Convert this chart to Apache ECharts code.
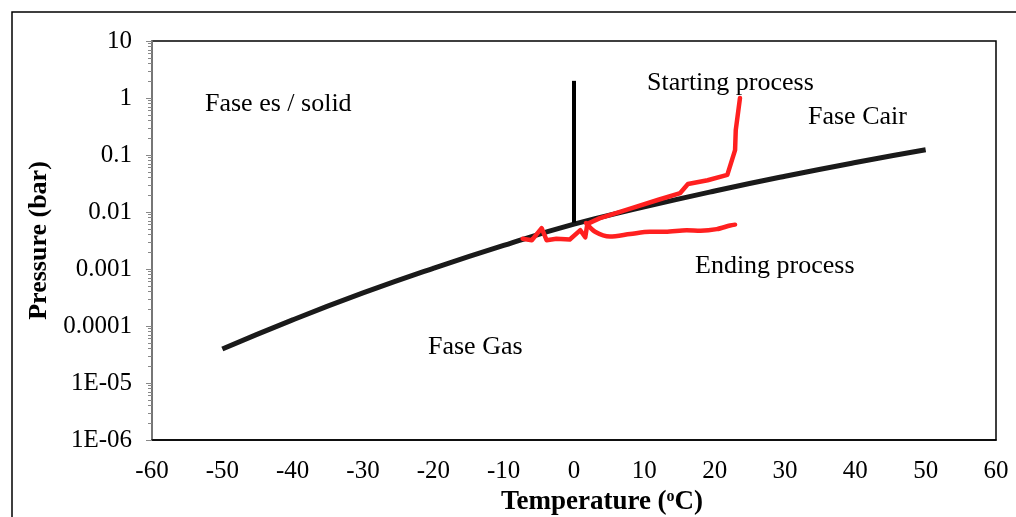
<!DOCTYPE html>
<html>
<head>
<meta charset="utf-8">
<style>
  html, body { margin: 0; padding: 0; background: #fff; }
  #chart { width: 1016px; height: 517px; }
</style>
<script src="https://cdn.jsdelivr.net/npm/echarts@6/dist/echarts.min.js"></script>
</head>
<body>
<div id="chart"></div>
<script>
// sublimation / vapour pressure curve (black)
const curveT = [-50, -40, -30, -20, -10, 0, 10, 20, 30, 40, 50]
const curveP = [3.94e-5, 1.28e-4, 3.8e-4, 1.03e-3, 2.6e-3, 6.11e-3, 1.228e-2, 2.339e-2, 4.246e-2, 7.384e-2, 0.1234]

// vertical line at 0 C
const wallT = [0, 0]
const wallP = [0.0065, 2.0]

// starting process (red)
const startT = [-7.3, -6, -4.6, -3.9, -2.5, -0.6, 0.9, 1.6, 1.9, 3.7, 8, 12, 15.1, 16.2, 19, 21.8, 22.9, 23.0, 23.6]
const startP = [0.0034, 0.0032, 0.0052, 0.0032, 0.0034, 0.0033, 0.0048, 0.0036, 0.0062, 0.0078, 0.0115, 0.0164, 0.0215, 0.031, 0.036, 0.0447, 0.122, 0.275, 1.0]

// ending process (red)
const endT = [1.7, 3, 5.1, 8, 10.8, 13, 16, 18, 20.3, 22.2, 22.9]
const endP = [0.0064, 0.0045, 0.0037, 0.0041, 0.0045, 0.0045, 0.0048, 0.0047, 0.005, 0.0058, 0.006]

// y tick labels, Excel style
const yTickLabels = ['1E-06', '1E-05', '0.0001', '0.001', '0.01', '0.1', '1', '10']

const font = '"Liberation Serif", "Times New Roman", serif'

function pairs(xs, ys) {
  return xs.map((x, i) => [x, ys[i]])
}

const chart = echarts.init(document.getElementById('chart'))

chart.setOption({
  animation: false,
  textStyle: { fontFamily: font },
  grid: {
    left: 152,
    top: 41,
    right: 20,
    bottom: 77,
    containLabel: false,
    outerBoundsMode: 'none',
    show: true,
    borderColor: '#000',
    borderWidth: 1.5
  },
  xAxis: {
    type: 'value',
    min: -60,
    max: 60,
    interval: 10,
    splitLine: { show: false },
    axisTick: { show: false },
    axisLine: { show: true, onZero: false, lineStyle: { color: '#000', width: 1.5 } },
    axisLabel: { color: '#000', fontSize: 25, fontFamily: font, margin: 19 },
    name: '{b|Temperature (}{s|o}{b|C)}',
    nameLocation: 'middle',
    nameGap: 48,
    nameTextStyle: {
      padding: [0, 0, 0, 56],
      rich: {
        b: { fontSize: 27, fontWeight: 'bold', fontFamily: font, color: '#000' },
        s: { fontSize: 16, fontWeight: 'bold', fontFamily: font, color: '#000', verticalAlign: 'top', padding: [0, 0, 10, 0] }
      }
    }
  },
  yAxis: {
    type: 'log',
    logBase: 10,
    min: 1e-6,
    max: 10,
    splitLine: { show: false },
    axisLine: { show: true, onZero: false, lineStyle: { color: '#888', width: 1.5 } },
    axisTick: { show: true, inside: false, length: 6, lineStyle: { color: '#888' } },
    minorTick: { show: true, splitNumber: 9, length: 4, lineStyle: { color: '#888' } },
    axisLabel: {
      color: '#000',
      fontSize: 25,
      fontFamily: font,
      margin: 20,
      formatter: v => {
        const i = Math.round(Math.log10(v)) + 6
        return yTickLabels[i] !== undefined ? yTickLabels[i] : ''
      }
    },
    name: 'Pressure (bar)',
    nameLocation: 'middle',
    nameGap: 98,
    nameTextStyle: { fontSize: 26, fontWeight: 'bold', fontFamily: font, color: '#000' }
  },
  series: [
    {
      type: 'line',
      data: pairs(curveT, curveP),
      smooth: true,
      showSymbol: false,
      lineStyle: { color: '#1a1a1a', width: 5 }
    },
    {
      type: 'line',
      data: pairs(wallT, wallP),
      showSymbol: false,
      lineStyle: { color: '#000', width: 4 }
    },
    {
      type: 'line',
      data: pairs(startT, startP),
      showSymbol: false,
      lineStyle: { color: '#ff2020', width: 4.5, cap: 'round', join: 'round' }
    },
    {
      type: 'line',
      data: pairs(endT, endP),
      smooth: 0.3,
      showSymbol: false,
      lineStyle: { color: '#ff2020', width: 4.5, cap: 'round', join: 'round' }
    }
  ],
  graphic: [
    {
      type: 'polyline',
      shape: { points: [[12, 530], [12, 12], [1030, 12]] },
      style: { stroke: '#000', lineWidth: 1.5, fill: null }
    },
    { type: 'text', x: 205, y: 104, style: { text: 'Fase es / solid', font: '26px ' + font, fill: '#000', verticalAlign: 'middle' } },
    { type: 'text', x: 647, y: 83, style: { text: 'Starting process', font: '26px ' + font, fill: '#000', verticalAlign: 'middle' } },
    { type: 'text', x: 808, y: 117, style: { text: 'Fase Cair', font: '26px ' + font, fill: '#000', verticalAlign: 'middle' } },
    { type: 'text', x: 695, y: 266, style: { text: 'Ending process', font: '26px ' + font, fill: '#000', verticalAlign: 'middle' } },
    { type: 'text', x: 428, y: 347, style: { text: 'Fase Gas', font: '26px ' + font, fill: '#000', verticalAlign: 'middle' } }
  ]
})
</script>
</body>
</html>
